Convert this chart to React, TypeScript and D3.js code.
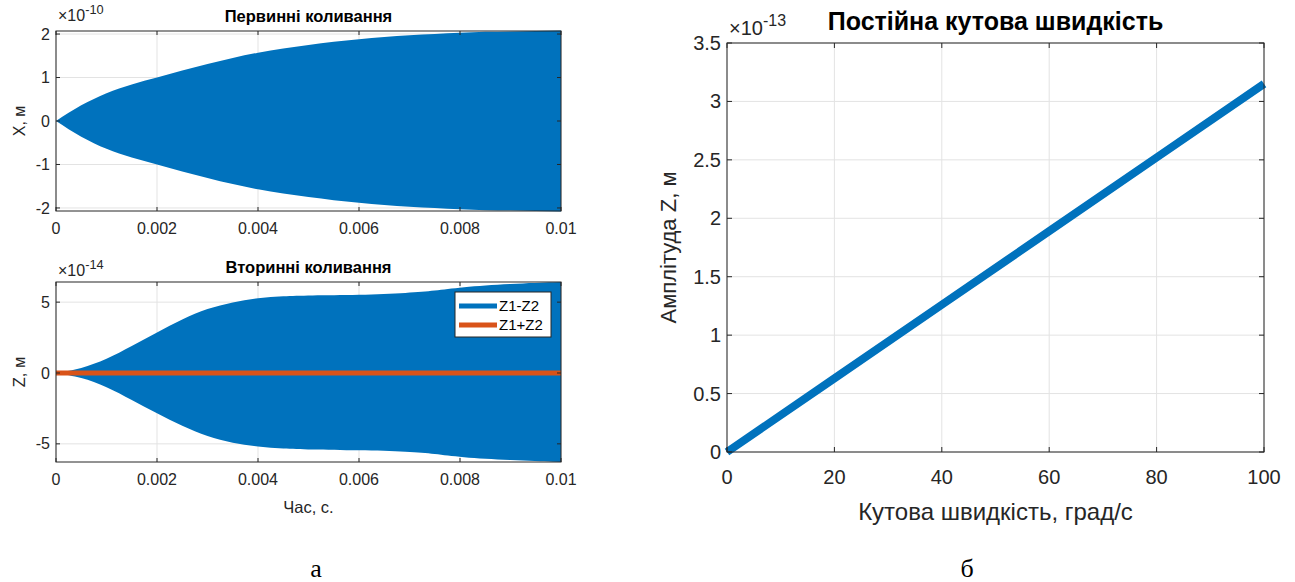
import * as d3 from 'd3';
import React, { useRef, useEffect } from 'react';

// первинні коливання: огинаюча амплітуди (x1e-10 м)
const timeX = [0, 0.0005, 0.001, 0.0015, 0.002, 0.0025, 0.003, 0.0035, 0.004, 0.0045, 0.005, 0.0055, 0.006, 0.0065, 0.007, 0.0075, 0.008, 0.0085, 0.009, 0.0095, 0.01];
const ampX = [0, 0.36, 0.64, 0.84, 1.0, 1.16, 1.31, 1.45, 1.57, 1.67, 1.75, 1.82, 1.88, 1.93, 1.97, 2.0, 2.03, 2.05, 2.06, 2.07, 2.08];

// вторинні коливання: огинаюча Z1-Z2 (x1e-14 м)
const timeZ = [0, 0.0005, 0.001, 0.0015, 0.002, 0.0025, 0.003, 0.0035, 0.004, 0.0045, 0.005, 0.006, 0.007, 0.0075, 0.008, 0.009, 0.01];
const zUpper = [0, 0.3, 0.95, 1.9, 2.86, 3.8, 4.56, 5.0, 5.3, 5.42, 5.47, 5.49, 5.65, 5.8, 6.05, 6.3, 6.42];
const zLower = [0, -0.3, -0.95, -1.9, -2.86, -3.75, -4.5, -4.95, -5.2, -5.33, -5.4, -5.45, -5.55, -5.7, -5.95, -6.15, -6.28];
const timeSum = [0, 0.01];
const zSum = [0, 0];

// постійна кутова швидкість (x1e-13 м)
const speed = [0, 20, 40, 60, 80, 100];
const ampZ = [0, 0.63, 1.26, 1.89, 2.52, 3.15];

const timeTicks = [0, 0.002, 0.004, 0.006, 0.008, 0.01];
const xTicks = [-2, -1, 0, 1, 2];
const zTicks = [-5, 0, 5];
const speedTicks = [0, 20, 40, 60, 80, 100];
const ampTicks = [0, 0.5, 1, 1.5, 2, 2.5, 3, 3.5];
const legendNames = ['Z1-Z2', 'Z1+Z2'];

const blue = '#0072BD';
const orange = '#D95319';
const axisColor = '#262626';
const gridColor = '#e3e3e3';
const font = 'Liberation Sans, Arial, sans-serif';

function App() {
    const ref = useRef(null);
    const width = 1295;
    const height = 582;

    useEffect(() => {
        draw();
    });

    const panel = (svg, o) => {
        const g = svg.append('g');
        const x = d3.scaleLinear().domain(o.xDomain).range([o.left, o.right]);
        const y = d3.scaleLinear().domain(o.yDomain).range([o.bottom, o.top]);

        // grid
        g.selectAll('.gx').data(o.xTicks).enter().append('line')
            .attr('x1', d => x(d)).attr('x2', d => x(d))
            .attr('y1', o.top).attr('y2', o.bottom)
            .attr('stroke', gridColor).attr('stroke-width', 1);
        g.selectAll('.gy').data(o.yTicks).enter().append('line')
            .attr('x1', o.left).attr('x2', o.right)
            .attr('y1', d => y(d)).attr('y2', d => y(d))
            .attr('stroke', gridColor).attr('stroke-width', 1);

        o.marks(g, x, y);

        // box
        g.append('rect')
            .attr('x', o.left).attr('y', o.top)
            .attr('width', o.right - o.left).attr('height', o.bottom - o.top)
            .attr('fill', 'none').attr('stroke', axisColor).attr('stroke-width', 1);

        // inward ticks
        const tl = o.tickLen;
        o.xTicks.forEach(d => {
            g.append('line').attr('x1', x(d)).attr('x2', x(d)).attr('y1', o.bottom).attr('y2', o.bottom - tl).attr('stroke', axisColor);
            g.append('line').attr('x1', x(d)).attr('x2', x(d)).attr('y1', o.top).attr('y2', o.top + tl).attr('stroke', axisColor);
        });
        o.yTicks.forEach(d => {
            g.append('line').attr('x1', o.left).attr('x2', o.left + tl).attr('y1', y(d)).attr('y2', y(d)).attr('stroke', axisColor);
            g.append('line').attr('x1', o.right).attr('x2', o.right - tl).attr('y1', y(d)).attr('y2', y(d)).attr('stroke', axisColor);
        });

        // tick labels
        g.selectAll('.tx').data(o.xTicks).enter().append('text')
            .attr('x', d => x(d)).attr('y', o.bottom + o.fs + o.tickPad)
            .attr('text-anchor', 'middle')
            .style('font-family', font).style('font-size', o.fs + 'px').attr('fill', axisColor)
            .text(d => o.xFmt(d));
        g.selectAll('.ty').data(o.yTicks).enter().append('text')
            .attr('x', o.left - 6).attr('y', d => y(d)).attr('dy', '0.35em')
            .attr('text-anchor', 'end')
            .style('font-family', font).style('font-size', o.fs + 'px').attr('fill', axisColor)
            .text(d => String(d));

        // exponent
        const ex = g.append('text')
            .attr('x', o.left + 2).attr('y', o.expY)
            .style('font-family', font).style('font-size', o.fs + 'px').attr('fill', axisColor);
        ex.append('tspan').text('\u00d710');
        ex.append('tspan').attr('dy', -o.fs * 0.45).style('font-size', (o.fs * 0.8) + 'px').text(o.exp);

        // title
        g.append('text')
            .attr('x', (o.left + o.right) / 2).attr('y', o.titleY)
            .attr('text-anchor', 'middle')
            .style('font-family', font).style('font-size', o.titleFs + 'px').style('font-weight', 'bold')
            .attr('fill', '#000').text(o.title);

        // y label
        g.append('text')
            .attr('transform', `translate(${o.yLabelX},${(o.top + o.bottom) / 2}) rotate(-90)`)
            .attr('text-anchor', 'middle').attr('dy', '0.35em')
            .style('font-family', font).style('font-size', o.labelFs + 'px').attr('fill', axisColor)
            .text(o.yLabel);

        if (o.xLabel) {
            g.append('text')
                .attr('x', (o.left + o.right) / 2).attr('y', o.xLabelY)
                .attr('text-anchor', 'middle')
                .style('font-family', font).style('font-size', (o.xLabelFs || o.labelFs) + 'px').attr('fill', axisColor)
                .text(o.xLabel);
        }
        return g;
    };

    const timeFmt = d => (d === 0 ? '0' : String(+d.toFixed(3)));

    const draw = () => {
        const svg = d3.select(ref.current)
            .attr('width', width)
            .attr('height', height);
        svg.selectAll('*').remove();

        // Первинні коливання
        panel(svg, {
            left: 56, right: 561, top: 31, bottom: 211,
            xDomain: [0, 0.01], yDomain: [-2.07, 2.07],
            xTicks: timeTicks, yTicks: xTicks, xFmt: timeFmt,
            fs: 16, titleFs: 16.5, labelFs: 16, tickLen: 4, tickPad: 7,
            exp: '-10', expY: 21, title: 'Первинні коливання', titleY: 22,
            yLabel: 'X, м', yLabelX: 19,
            marks: (g, x, y) => {
                const area = d3.area()
                    .x((d, i) => x(timeX[i]))
                    .y0((d, i) => y(-ampX[i]))
                    .y1((d, i) => y(ampX[i]))
                    .curve(d3.curveMonotoneX);
                g.append('path').datum(ampX).attr('d', area).attr('fill', blue);
            }
        });

        // Вторинні коливання
        panel(svg, {
            left: 56, right: 561, top: 282, bottom: 462,
            xDomain: [0, 0.01], yDomain: [-6.28, 6.42],
            xTicks: timeTicks, yTicks: zTicks, xFmt: timeFmt,
            fs: 16, titleFs: 16.5, labelFs: 16.5, tickLen: 4, tickPad: 7,
            exp: '-14', expY: 276, title: 'Вторинні коливання', titleY: 273,
            yLabel: 'Z, м', yLabelX: 19,
            xLabel: 'Час, с.', xLabelY: 513,
            marks: (g, x, y) => {
                const area = d3.area()
                    .x((d, i) => x(timeZ[i]))
                    .y0((d, i) => y(zLower[i]))
                    .y1((d, i) => y(zUpper[i]))
                    .curve(d3.curveBasis);
                g.append('path').datum(zUpper).attr('d', area).attr('fill', blue);
                const line = d3.line().x((d, i) => x(timeSum[i])).y(d => y(d));
                g.append('path').datum(zSum).attr('d', line)
                    .attr('fill', 'none').attr('stroke', orange).attr('stroke-width', 5);
            }
        });

        // legend
        const lg = svg.append('g').attr('transform', 'translate(455,292)');
        lg.append('rect').attr('width', 96).attr('height', 45)
            .attr('fill', '#fff').attr('stroke', axisColor).attr('stroke-width', 1);
        legendNames.forEach((name, i) => {
            const yy = 14 + i * 19;
            lg.append('line').attr('x1', 4).attr('x2', 42).attr('y1', yy).attr('y2', yy)
                .attr('stroke', i === 0 ? blue : orange).attr('stroke-width', 5);
            lg.append('text').attr('x', 44).attr('y', yy).attr('dy', '0.35em')
                .style('font-family', font).style('font-size', '15px').attr('fill', '#000')
                .text(name);
        });

        // Постійна кутова швидкість
        panel(svg, {
            left: 727, right: 1264, top: 43, bottom: 452,
            xDomain: [0, 100], yDomain: [0, 3.5],
            xTicks: speedTicks, yTicks: ampTicks, xFmt: d => String(d),
            fs: 20, titleFs: 25, labelFs: 22, xLabelFs: 24, tickLen: 5, tickPad: 12,
            exp: '-13', expY: 35, title: 'Постійна кутова швидкість', titleY: 30,
            yLabel: 'Амплітуда Z, м', yLabelX: 668,
            xLabel: 'Кутова швидкість, град/с', xLabelY: 520,
            marks: (g, x, y) => {
                const line = d3.line().x((d, i) => x(speed[i])).y(d => y(d));
                g.append('path').datum(ampZ).attr('d', line)
                    .attr('fill', 'none').attr('stroke', blue).attr('stroke-width', 8);
            }
        });

        // підписи а / б
        svg.append('text').attr('x', 316).attr('y', 577).attr('text-anchor', 'middle')
            .style('font-family', 'Liberation Serif, Times New Roman, serif').style('font-size', '26px')
            .text('а');
        svg.append('text').attr('x', 967).attr('y', 577).attr('text-anchor', 'middle')
            .style('font-family', 'Liberation Serif, Times New Roman, serif').style('font-size', '26px')
            .text('б');
    };

    return (
        <div className="chart">
            <svg ref={ref} style={{ position: 'absolute', left: 0, top: 0, background: '#fff' }}>
            </svg>
        </div>
    );
}

export default App;
